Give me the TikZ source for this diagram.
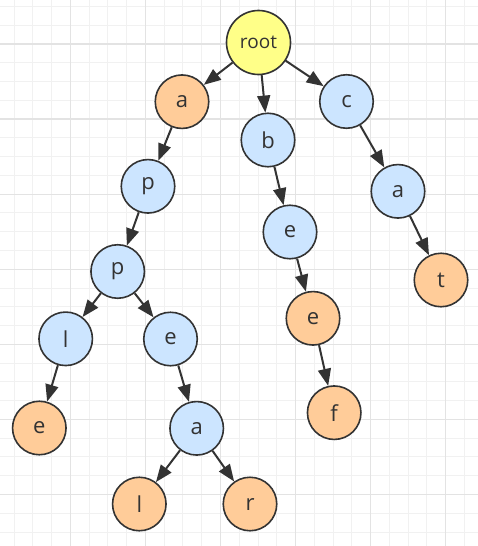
\documentclass[tikz,border=0pt]{standalone}
\usepackage{fontspec}
\setmainfont{Open Sans}
\usetikzlibrary{arrows.meta}
\definecolor{nodeyellow}{HTML}{FFFF88}
\definecolor{nodeorange}{HTML}{FFCC99}
\definecolor{nodeblue}{HTML}{CCE5FF}
\definecolor{inkgray}{HTML}{333333}
\definecolor{gridminor}{HTML}{F1F1F1}
\definecolor{gridmajor}{HTML}{E3E3E3}
\tikzset{
  trienode/.style={circle, draw=inkgray, line width=1.6pt, minimum size=53.5pt, inner sep=0pt,
    text=inkgray, font=\fontsize{22}{22}\selectfont},
  rootnode/.style={trienode, fill=nodeyellow, minimum size=64pt, font=\fontsize{19}{19}\selectfont},
  bluenode/.style={trienode, fill=nodeblue},
  orangenode/.style={trienode, fill=nodeorange},
  edge/.style={draw=inkgray, line width=2pt, -{Triangle[length=17pt,width=13pt]}},
  minorline/.style={draw=gridminor, line width=1pt},
  majorline/.style={draw=gridmajor, line width=1.2pt}
}
\begin{document}
\begin{tikzpicture}[x=1pt,y=-1pt]
\useasboundingbox (0,0) rectangle (478,546);
\fill[white] (0,0) rectangle (478,546);
% grid
\foreach \i in {0,...,25} {
  \draw[minorline] ({14.0+18.77*\i},0) -- ({14.0+18.77*\i},546);
}
\foreach \i in {0,...,29} {
  \draw[minorline] (0,{6.46+18.77*\i}) -- (478,{6.46+18.77*\i});
}
\foreach \i in {0,...,6} {
  \draw[majorline] ({70.3+75.08*\i},0) -- ({70.3+75.08*\i},546);
}
\foreach \i in {0,...,6} {
  \draw[majorline] (0,{44+75.08*\i}) -- (478,{44+75.08*\i});
}
% nodes
\node[rootnode] (root) at (258.5,42.5) {root};
\node[orangenode] (a1) at (182,101.7) {a};
\node[bluenode] (b) at (268,140) {b};
\node[bluenode] (c) at (346.5,101.5) {c};
\node[bluenode] (p1) at (148,186.3) {p};
\node[bluenode] (e1) at (290,232) {e};
\node[bluenode] (a2) at (398,191.3) {a};
\node[bluenode] (p2) at (117.7,271.5) {p};
\node[orangenode] (e2) at (313,318.3) {e};
\node[orangenode] (t) at (441,280) {t};
\node[bluenode] (l1) at (65.7,338.8) {l};
\node[bluenode] (e3) at (170.5,339) {e};
\node[orangenode] (f) at (334.2,412.7) {f};
\node[orangenode] (e4) at (39.3,428) {e};
\node[bluenode] (a3) at (196.7,428.3) {a};
\node[orangenode] (l2) at (139.3,504) {l};
\node[orangenode] (r) at (250,504) {r};
% edges
\draw[edge] (root) -- (a1);
\draw[edge] (root) -- (b);
\draw[edge] (root) -- (c);
\draw[edge] (a1) -- (p1);
\draw[edge] (p1) -- (p2);
\draw[edge] (p2) -- (l1);
\draw[edge] (p2) -- (e3);
\draw[edge] (l1) -- (e4);
\draw[edge] (e3) -- (a3);
\draw[edge] (a3) -- (l2);
\draw[edge] (a3) -- (r);
\draw[edge] (b) -- (e1);
\draw[edge] (e1) -- (e2);
\draw[edge] (e2) -- (f);
\draw[edge] (c) -- (a2);
\draw[edge] (a2) -- (t);
\end{tikzpicture}
\end{document}
